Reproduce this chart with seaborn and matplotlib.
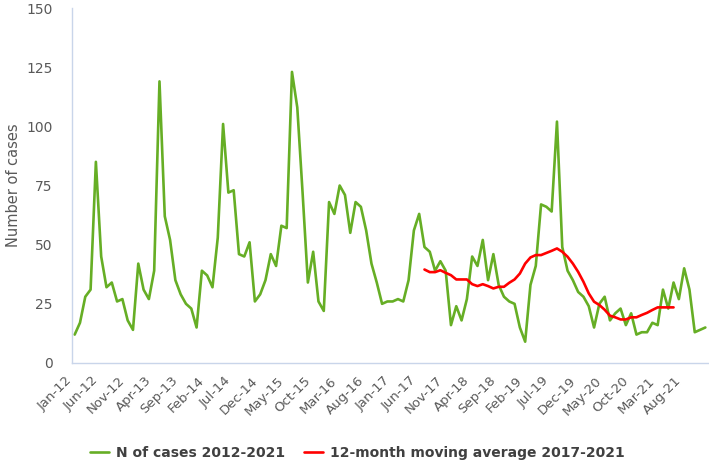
import numpy as np
import pandas as pd
import matplotlib
matplotlib.use("Agg")
import matplotlib.pyplot as plt
import seaborn as sns

# Monthly cases Jan-2012 .. Dec-2021
cases = [12, 17, 28, 31, 85, 45, 32, 34, 26, 27, 18, 14,
         42, 31, 27, 39, 119, 62, 52, 35, 29, 25, 23, 15,
         39, 37, 32, 53, 101, 72, 73, 46, 45, 51, 26, 29,
         35, 46, 41, 58, 57, 123, 108, 72, 34, 47, 26, 22,
         68, 63, 75, 71, 55, 68, 66, 56, 42, 34, 25, 26,
         26, 27, 26, 35, 56, 63, 49, 47, 39, 43, 39, 16,
         24, 18, 27, 45, 41, 52, 35, 46, 33, 28, 26, 25,
         15, 9, 33, 41, 67, 66, 64, 102, 49, 39, 35, 30,
         28, 24, 15, 25, 28, 18, 21, 23, 16, 21, 12, 13,
         13, 17, 16, 31, 23, 34, 27, 40, 31, 13, 14, 15]

# 12-month moving average, Jul-2017 .. Jun-2021
ma_start = 66
moving_avg = [39.5, 38.4, 38.4, 39.2, 38.1, 37.1, 35.3, 35.3, 35.3, 33.3, 32.5, 33.3,
              32.5, 31.5, 32.2, 32.2, 33.9, 35.3, 37.8, 42.0, 44.6, 45.6, 45.6, 46.5,
              47.4, 48.4, 47.0, 44.9, 42.0, 38.5, 34.3, 29.4, 25.9, 24.5, 22.5, 20.0,
              19.3, 18.4, 18.4, 19.3, 19.3, 20.3, 21.2, 22.4, 23.5, 23.5, 23.5, 23.5]

tick_labels = ['Jan-12', 'Jun-12', 'Nov-12', 'Apr-13', 'Sep-13', 'Feb-14', 'Jul-14', 'Dec-14',
               'May-15', 'Oct-15', 'Mar-16', 'Aug-16', 'Jan-17', 'Jun-17', 'Nov-17', 'Apr-18',
               'Sep-18', 'Feb-19', 'Jul-19', 'Dec-19', 'May-20', 'Oct-20', 'Mar-21', 'Aug-21']

series_names = ['N of cases 2012-2021', '12-month moving average 2017-2021']

cases_df = pd.DataFrame({'month': np.arange(len(cases)), 'cases': cases})
ma_df = pd.DataFrame({'month': np.arange(ma_start, ma_start + len(moving_avg)), 'cases': moving_avg})

sns.set_style('white')
plt.rcParams['font.family'] = ['DejaVu Sans']

fig = plt.figure(figsize=(7.09, 4.63), dpi=100)
ax = fig.add_axes([0.1016, 0.216, 0.897, 0.7667])

sns.lineplot(data=cases_df, x='month', y='cases', ax=ax, color='#66ae25', linewidth=1.9,
             label=series_names[0])
sns.lineplot(data=ma_df, x='month', y='cases', ax=ax, color='#ff0000', linewidth=1.9,
             label=series_names[1])

ax.set_xlim(-0.5, len(cases) - 0.5)
ax.set_ylim(0, 150)
ax.set_yticks(range(0, 151, 25))
ax.set_xticks(range(0, len(cases), 5))
ax.set_xticklabels(tick_labels, rotation=45, ha='right')

ax.set_xlabel('')
ax.set_ylabel('Number of cases', fontsize=10.5, color='#595959', labelpad=4)
ax.tick_params(axis='y', length=0, pad=14, labelsize=10, labelcolor='#595959')
ax.tick_params(axis='x', length=0, pad=8, labelsize=9.5, labelcolor='#595959')

for side in ['top', 'right']:
    ax.spines[side].set_visible(False)
for side in ['left', 'bottom']:
    ax.spines[side].set_color('#c9d5ea')
    ax.spines[side].set_linewidth(1.0)

ax.get_legend().remove()
handles, labels = ax.get_legend_handles_labels()
leg = fig.legend(handles, labels, loc='center', bbox_to_anchor=(0.504, 0.022), ncol=2,
                 frameon=False, handlelength=1.4, columnspacing=1.3, handletextpad=0.5,
                 prop={'size': 10, 'weight': 'bold'})
for t in leg.get_texts():
    t.set_color('#404040')

fig.savefig('out.png', dpi=100)
